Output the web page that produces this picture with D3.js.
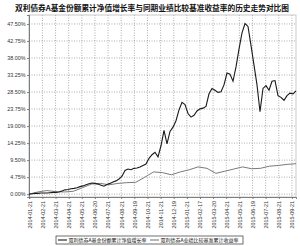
<!DOCTYPE html>
<html>
<head>
<meta charset="utf-8">
<script src="https://cdn.jsdelivr.net/npm/d3@7"></script>
<style>
  body { margin: 0; background: #fff; }
  svg { display: block; }
  .grid line { stroke: #9a9a9a; stroke-dasharray: 1,1.5; stroke-width: 0.8; }
  .axis text { font-family: "Liberation Sans", Arial, sans-serif; font-size: 5.4px; fill: #333; }
  .axis path, .axis line { stroke: #666; stroke-width: 0.8; }
</style>
</head>
<body>
<div id="chart"></div>
<script>
// fund cumulative NAV growth (%), evenly spaced from start to end date
var fundValues = [0, 0.1, 0.2, 0.2, 0.3, 0.3, 0.3, 0.4, 0.5, 0.5,
    0.6, 0.9, 1.2, 1.3, 1.5, 1.6, 1.8, 2.1, 2.3, 2.6,
    2.9, 3.1, 3.0, 2.8, 2.5, 2.2, 2.7, 3.0, 3.4, 3.7,
    4.2, 5.0, 6.6, 7.0, 6.8, 7.2, 7.3, 7.6, 8.0, 8.4,
    10.0, 11.0, 11.7, 10.4, 13.5, 17.8, 14.0, 17.5, 18.7, 20.5,
    23.5, 25.6, 25.0, 22.5, 21.5, 22.0, 23.2, 23.8, 24.0, 24.5,
    28.0, 29.5, 29.0, 28.4, 28.6, 30.5, 33.8, 33.5, 31.5, 35.5,
    40.5, 45.0, 47.6, 46.8, 41.5, 36.0, 30.5, 23.0, 29.5, 30.3,
    29.0, 31.5, 31.7, 27.5, 27.0, 26.2, 27.5, 28.2, 28.0, 28.8];

// benchmark cumulative return (%), evenly spaced over the same period
var benchValues = [0, 0.6, 1.0, 0.7, 0.6, 0.8, 1.8, 2.8, 3.0, 2.6,
    3.0, 3.2, 3.3, 4.7, 6.2, 6.0, 5.4, 6.2, 6.8, 7.6,
    7.2, 5.8, 6.4, 7.0, 7.6, 7.1, 7.2, 7.8, 8.0, 8.3, 8.5];

var dateLabels = ["2014-01-21", "2014-02-21", "2014-03-21", "2014-04-21", "2014-05-21",
    "2014-06-20", "2014-07-21", "2014-08-21", "2014-09-19", "2014-10-21",
    "2014-11-21", "2014-12-19", "2015-01-21", "2015-02-17", "2015-03-20",
    "2015-04-21", "2015-05-21", "2015-06-19", "2015-07-21", "2015-08-21",
    "2015-09-21"];

var yTicks = [0, 4.75, 9.5, 14.25, 19, 23.75, 28.5, 33.25, 38, 42.75, 47.5];

var seriesNames = ["双利债券A基金份额累计净值增长率", "双利债券A业绩比较基准累计收益率"];
var title = "双利债券A基金份额累计净值增长率与同期业绩比较基准收益率的历史走势对比图";

var W = 300, H = 246;
var plotLeft = 29, plotRight = 296, plotTop = 15, plotBottom = 197;
var labelStep = 13.13; // px between date labels

var svg = d3.select("#chart").append("svg")
    .attr("width", W).attr("height", H);

svg.append("text")
    .attr("x", W / 2 + 2).attr("y", 10.5)
    .attr("text-anchor", "middle")
    .style("font-family", "'Noto Sans CJK SC', sans-serif")
    .style("font-weight", "bold")
    .style("font-size", "7.7px")
    .style("fill", "#111")
    .text(title);

// position along the time span, 0..1
var xScale = d3.scaleLinear().domain([0, 1]).range([plotLeft, plotRight]);
var yScale = d3.scaleLinear().domain([-0.8, 50]).range([plotBottom, plotTop]);
var labelPos = function (i) { return (i * labelStep + 0.3) / (plotRight - plotLeft); };

// grid
var grid = svg.append("g").attr("class", "grid");
grid.selectAll(".h").data(yTicks).enter().append("line")
    .attr("x1", plotLeft).attr("x2", plotRight)
    .attr("y1", d => yScale(d)).attr("y2", d => yScale(d));
grid.selectAll(".v").data(dateLabels).enter().append("line")
    .attr("x1", (d, i) => xScale(labelPos(i))).attr("x2", (d, i) => xScale(labelPos(i)))
    .attr("y1", plotTop).attr("y2", plotBottom);

svg.append("rect")
    .attr("x", plotLeft).attr("y", plotTop)
    .attr("width", plotRight - plotLeft).attr("height", plotBottom - plotTop)
    .attr("fill", "none").attr("stroke", "#bbb").attr("stroke-width", 0.8);

// y axis
svg.append("g")
    .attr("class", "axis")
    .attr("transform", `translate(${plotLeft},0)`)
    .call(d3.axisLeft(yScale).tickValues(yTicks).tickSize(2).tickPadding(1.5)
        .tickFormat(d => d.toFixed(2) + "%"));

// x axis
var xAxis = svg.append("g")
    .attr("class", "axis")
    .attr("transform", `translate(0,${plotBottom})`)
    .call(d3.axisBottom(xScale)
        .tickValues(dateLabels.map((d, i) => labelPos(i)))
        .tickSize(2)
        .tickFormat((d, i) => dateLabels[i]));
xAxis.selectAll("text")
    .attr("transform", "rotate(-90)")
    .attr("text-anchor", "end")
    .attr("x", -4).attr("y", 0)
    .attr("dy", "0.35em");

// lines
var fundLine = d3.line()
    .x((d, i) => xScale(i / (fundValues.length - 1)))
    .y(d => yScale(d));
var benchLine = d3.line()
    .x((d, i) => xScale(i / (benchValues.length - 1)))
    .y(d => yScale(d));

svg.append("path").datum(benchValues)
    .attr("d", benchLine)
    .attr("fill", "none").attr("stroke", "#7a7a7a").attr("stroke-width", 1);
svg.append("path").datum(fundValues)
    .attr("d", fundLine)
    .attr("fill", "none").attr("stroke", "#1a1a1a").attr("stroke-width", 1.1);

// legend
var legend = svg.append("g").attr("transform", "translate(56,236)");
legend.append("rect")
    .attr("x", 0).attr("y", 0).attr("width", 187).attr("height", 8)
    .attr("fill", "#fff").attr("stroke", "#333").attr("stroke-width", 0.7);
var items = [{ name: seriesNames[0], color: "#1a1a1a", x: 2 },
             { name: seriesNames[1], color: "#7a7a7a", x: 94 }];
var li = legend.selectAll(".item").data(items).enter().append("g")
    .attr("transform", d => `translate(${d.x},4)`);
li.append("line").attr("x1", 0).attr("x2", 9)
    .attr("stroke", d => d.color).attr("stroke-width", 1.1);
li.append("text").attr("x", 10.5).attr("y", 1.9)
    .style("font-family", "'Noto Sans CJK SC', sans-serif")
    .style("font-size", "5px")
    .style("fill", "#111")
    .text(d => d.name);
</script>
</body>
</html>
